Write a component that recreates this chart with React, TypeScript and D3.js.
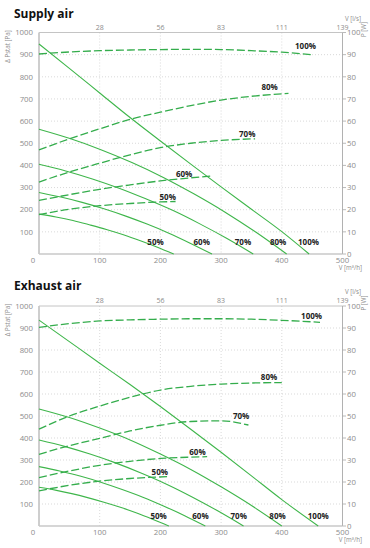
import React from "react";
import * as d3 from "d3";

// ---------- axes ----------
const FLOW_TICKS = [0, 100, 200, 300, 400, 500];
const FLOW_LS_TICKS = [100, 200, 300, 400, 500];
const FLOW_LS_LABELS = ["28", "56", "83", "111", "139"];
const PRESSURE_TICKS = [100, 200, 300, 400, 500, 600, 700, 800, 900, 1000];
const POWER_TICKS = [0, 10, 20, 30, 40, 50, 60, 70, 80, 90, 100];
const SPEEDS = ["50%", "60%", "70%", "80%", "100%"];

// ---------- Supply air: fan curves [m3/h, Pa] ----------
const supplyFan50 = [[0, 180], [28, 167], [56, 151], [83, 132], [111, 111], [139, 87], [167, 60], [194, 32], [222, 0]];
const supplyFan60 = [[0, 278], [36, 257], [71, 233], [107, 204], [143, 171], [178, 135], [214, 94], [249, 49], [285, 0]];
const supplyFan70 = [[0, 405], [44, 375], [88, 339], [132, 297], [176, 249], [221, 196], [265, 136], [309, 71], [353, 0]];
const supplyFan80 = [[0, 563], [51, 521], [102, 471], [153, 413], [204, 347], [255, 272], [306, 190], [357, 99], [408, 0]];
const supplyFan100 = [[0, 948], [50, 838], [100, 727], [150, 616], [200, 510], [250, 406], [300, 303], [350, 202], [400, 101], [445, 0]];

// ---------- Supply air: power curves [m3/h, W] ----------
const supplyPow50 = [[0, 17.8], [50, 20.2], [100, 21.8], [150, 22.8], [200, 23.5], [225, 23.7]];
const supplyPow60 = [[0, 24.2], [50, 26.8], [100, 29.2], [150, 31.2], [200, 33], [250, 34.4], [285, 35.2]];
const supplyPow70 = [[0, 32.5], [50, 37], [100, 41], [150, 44.8], [200, 48], [250, 50], [300, 51.3], [356, 52]];
const supplyPow80 = [[0, 47], [50, 52], [100, 56.5], [150, 60.8], [200, 64], [250, 67], [300, 69.5], [350, 71.2], [411, 72.5]];
const supplyPow100 = [[0, 90.3], [50, 91.2], [100, 91.8], [150, 92.1], [200, 92.3], [250, 92.4], [300, 92.3], [350, 91.8], [400, 91.1], [450, 90]];

// ---------- Exhaust air: fan curves [m3/h, Pa] ----------
const exhaustFan50 = [[0, 176], [27, 163], [54, 147], [80, 129], [107, 108], [134, 85], [161, 59], [187, 31], [214, 0]];
const exhaustFan60 = [[0, 270], [34, 250], [69, 226], [103, 198], [137, 166], [171, 131], [206, 90], [240, 47], [274, 0]];
const exhaustFan70 = [[0, 391], [42, 362], [84, 327], [126, 287], [169, 240], [211, 189], [253, 131], [295, 68], [337, 0]];
const exhaustFan80 = [[0, 532], [50, 493], [100, 445], [150, 391], [200, 327], [250, 257], [300, 178], [350, 93], [400, 0]];
const exhaustFan100 = [[0, 936], [50, 838], [100, 740], [150, 643], [200, 543], [250, 440], [300, 335], [350, 228], [400, 120], [460, 0]];

// ---------- Exhaust air: power curves [m3/h, W] ----------
const exhaustPow50 = [[0, 16], [50, 18.5], [100, 20.4], [150, 21.6], [211, 22.4]];
const exhaustPow60 = [[0, 22], [50, 25], [100, 27.6], [150, 29.4], [200, 30.7], [250, 31.3], [277, 31.5]];
const exhaustPow70 = [[0, 32.6], [50, 36.5], [100, 39.8], [150, 43.2], [200, 45.8], [250, 47.5], [300, 47.8], [345, 45.9]];
const exhaustPow80 = [[0, 44], [50, 50], [100, 54.5], [150, 58.5], [200, 61.8], [250, 63.5], [300, 64.5], [350, 65], [400, 65.2]];
const exhaustPow100 = [[0, 90.3], [50, 92], [100, 93.2], [150, 93.7], [200, 94], [250, 94.2], [300, 94.2], [350, 94], [400, 93.5], [463, 92.6]];

// ---------- label anchors [m3/h, Pa] ----------
const supplyPowLabels = [[212, 244], [239, 348], [343, 528], [380, 740], [439, 925]];
const supplyFanLabels = [[192, 40], [268, 40], [336, 40], [394, 40], [444, 40]];
const exhaustPowLabels = [[199, 232], [261, 323], [333, 486], [379, 664], [449, 941]];
const exhaustFanLabels = [[197, 32], [266, 32], [329, 32], [393, 32], [460, 32]];

const FONT = "'Open Sans', 'DejaVu Sans', sans-serif";
const GREEN = "#3fb64b";
const GREEN_DASH = "#34ad4c";
const AXIS_TEXT = "#8c8c8c";

type Pt = number[];

interface ChartProps {
  title: string;
  titleY: number;
  plotTop: number;
  plotBottom: number;
  fans: Pt[][];
  pows: Pt[][];
  powLabels: Pt[];
  fanLabels: Pt[];
}

function Chart({ title, titleY, plotTop, plotBottom, fans, pows, powLabels, fanLabels }: ChartProps) {
  const left = 39;
  const right = 342.5;
  const x = d3.scaleLinear().domain([0, 500]).range([left, right]);
  const y = d3.scaleLinear().domain([0, 1000]).range([plotBottom, plotTop]);
  const yW = d3.scaleLinear().domain([0, 100]).range([plotBottom, plotTop]);
  const fanLine = d3.line<Pt>().x((d) => x(d[0])).y((d) => y(d[1])).curve(d3.curveMonotoneX);
  const powLine = d3.line<Pt>().x((d) => x(d[0])).y((d) => yW(d[1])).curve(d3.curveMonotoneX);

  return (
    <g>
      <text x={14} y={titleY} fontFamily={FONT} fontWeight={700} fontSize={12} fill="#111">
        {title}
      </text>
      {/* grid */}
      {PRESSURE_TICKS.filter((t) => t < 1000).map((t) => (
        <line key={"gh" + t} x1={left} x2={right} y1={y(t)} y2={y(t)} stroke="#cfcfcf" strokeWidth={0.8} strokeDasharray="1,2" />
      ))}
      {FLOW_TICKS.filter((t) => t > 0 && t < 500).map((t) => (
        <line key={"gv" + t} x1={x(t)} x2={x(t)} y1={plotTop} y2={plotBottom} stroke="#cfcfcf" strokeWidth={0.8} strokeDasharray="1,2" />
      ))}
      {/* frame */}
      <line x1={left} x2={right} y1={plotTop} y2={plotTop} stroke="#b5b5b5" strokeWidth={0.8} />
      <line x1={right} x2={right} y1={plotTop} y2={plotBottom} stroke="#a8a8a8" strokeWidth={0.9} />
      <line x1={left} x2={right} y1={plotBottom} y2={plotBottom} stroke="#c9c9c9" strokeWidth={1.5} />
      <line x1={left} x2={left} y1={plotTop} y2={plotBottom} stroke="#c9c9c9" strokeWidth={1.8} />
      {/* left axis labels */}
      {PRESSURE_TICKS.map((t) => (
        <text key={"yl" + t} x={33} y={y(t)} dy="0.35em" textAnchor="end" fontFamily={FONT} fontSize={7.8} fill={AXIS_TEXT}>
          {t}
        </text>
      ))}
      <text
        transform={`translate(9.5,${plotTop + 14}) rotate(-90)`}
        textAnchor="middle"
        fontFamily={FONT}
        fontSize={6.2}
        fill={AXIS_TEXT}
      >
        Δ Pstat [Pa]
      </text>
      {/* right axis */}
      {POWER_TICKS.map((t) => (
        <g key={"yr" + t}>
          <line x1={right} x2={right + 3.5} y1={yW(t)} y2={yW(t)} stroke="#a8a8a8" strokeWidth={0.8} />
          <text x={right + 4.5} y={yW(t)} dy="0.35em" fontFamily={FONT} fontSize={7.8} fill={AXIS_TEXT}>
            {t}
          </text>
        </g>
      ))}
      <text
        transform={`translate(366,${plotTop - 3}) rotate(-90)`}
        textAnchor="middle"
        fontFamily={FONT}
        fontSize={6.2}
        fill={AXIS_TEXT}
      >
        P [W]
      </text>
      {/* top axis */}
      {FLOW_LS_TICKS.map((t, i) => (
        <text key={"tl" + t} x={x(t)} y={plotTop - 2.7} textAnchor="middle" fontFamily={FONT} fontSize={7} fill={AXIS_TEXT}>
          {FLOW_LS_LABELS[i]}
        </text>
      ))}
      <text x={361} y={plotTop - 12} textAnchor="end" fontFamily={FONT} fontSize={6.2} fill={AXIS_TEXT}>
        V [l/s]
      </text>
      {/* bottom axis */}
      {FLOW_TICKS.map((t) => (
        <text key={"bl" + t} x={t === 0 ? x(t) - 6 : x(t)} y={plotBottom + 9.3} textAnchor="middle" fontFamily={FONT} fontSize={7.8} fill={AXIS_TEXT}>
          {t}
        </text>
      ))}
      <text x={362} y={plotBottom + 16} textAnchor="end" fontFamily={FONT} fontSize={6.2} fill={AXIS_TEXT}>
        V [m³/h]
      </text>
      {/* curves */}
      {fans.map((d, i) => (
        <path key={"f" + i} d={fanLine(d) || ""} fill="none" stroke={GREEN} strokeWidth={1.1} />
      ))}
      {pows.map((d, i) => (
        <path key={"p" + i} d={powLine(d) || ""} fill="none" stroke={GREEN_DASH} strokeWidth={1.3} strokeDasharray="8,3" />
      ))}
      {/* labels */}
      {powLabels.map((d, i) => (
        <text key={"pl" + i} x={x(d[0])} y={y(d[1])} textAnchor="middle" fontFamily={FONT} fontWeight={700} fontSize={8} fill="#222">
          {SPEEDS[i]}
        </text>
      ))}
      {fanLabels.map((d, i) => (
        <text key={"fl" + i} x={x(d[0])} y={y(d[1])} textAnchor="middle" fontFamily={FONT} fontWeight={700} fontSize={8} fill="#222">
          {SPEEDS[i]}
        </text>
      ))}
    </g>
  );
}

export default function App() {
  return (
    <svg width={370} height={548} style={{ position: "absolute", left: 0, top: 0, background: "#fff" }}>
      <rect x={0} y={0} width={370} height={548} fill="#fff" />
      <Chart
        title="Supply air"
        titleY={17.5}
        plotTop={32.5}
        plotBottom={254}
        fans={[supplyFan50, supplyFan60, supplyFan70, supplyFan80, supplyFan100]}
        pows={[supplyPow50, supplyPow60, supplyPow70, supplyPow80, supplyPow100]}
        powLabels={supplyPowLabels}
        fanLabels={supplyFanLabels}
      />
      <Chart
        title="Exhaust air"
        titleY={289.5}
        plotTop={306}
        plotBottom={526}
        fans={[exhaustFan50, exhaustFan60, exhaustFan70, exhaustFan80, exhaustFan100]}
        pows={[exhaustPow50, exhaustPow60, exhaustPow70, exhaustPow80, exhaustPow100]}
        powLabels={exhaustPowLabels}
        fanLabels={exhaustFanLabels}
      />
    </svg>
  );
}
